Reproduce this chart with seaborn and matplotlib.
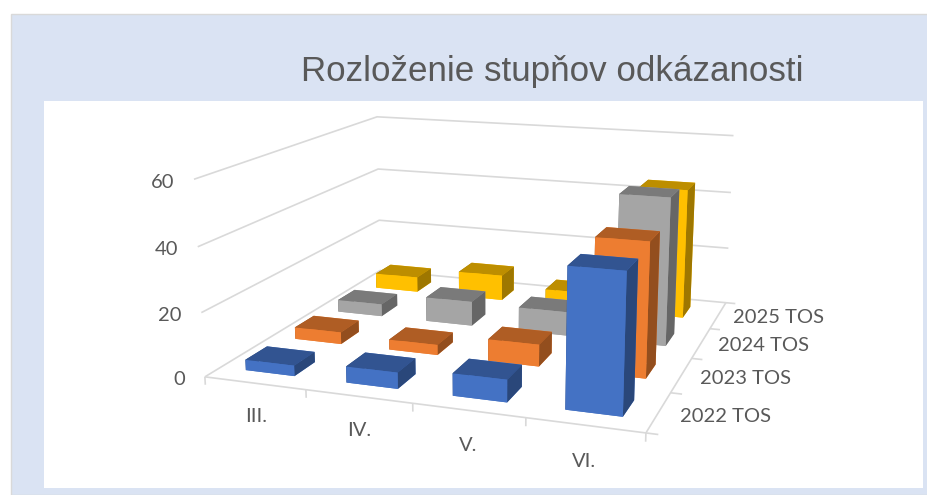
import numpy as np, matplotlib
matplotlib.use("Agg")
import matplotlib.pyplot as plt
from matplotlib.patches import Rectangle
import seaborn as sns

sns.set_theme(style="white")
W, H = 927, 495

title = "Rozloženie stupňov odkázanosti"
categories = ["III.", "IV.", "V.", "VI."]
series = ["2022 TOS", "2023 TOS", "2024 TOS", "2025 TOS"]
v2022 = [3.3, 5, 6.8, 41.5]
v2023 = [3.9, 3.3, 7, 42]
v2024 = [4.2, 8.3, 8, 48.5]
v2025 = [5.4, 9, 5.5, 44.5]
values = [v2022, v2023, v2024, v2025]
z_ticks = [0, 20, 40, 60]
palette = sns.color_palette(["#4472C4", "#ED7D31", "#A5A5A5", "#FFC000"])
text_c = "#595959"
grid_c = "#D9D9D9"
bar_w, bar_d = 0.49, 0.42

fig = plt.figure(figsize=(W / 100, H / 100), dpi=100, facecolor="white")
fig.add_artist(Rectangle((11 / W, 0), 1, 1 - 14 / H, transform=fig.transFigure,
                         fc="#DAE3F3", ec=grid_c, lw=1, zorder=-3))
fig.add_artist(Rectangle((44 / W, 7 / H), (923 - 44) / W, (488 - 101) / H,
                         transform=fig.transFigure, fc="white", ec="none", zorder=-2))

ax = fig.add_subplot(projection="3d", computed_zorder=False)
ax.set_facecolor("none")
ax.view_init(elev=14.0647, azim=-70.7689)
ax.set_proj_type("persp", focal_length=0.4132)
ax.set_box_aspect((1.9694, 1.9018, 0.8821))
ax.set_position([184.90 / W, -55.87 / H, 590.68 / W, 590.68 / H])

nx, ny = len(categories), len(series)
line = dict(color=grid_c, lw=1.2, zorder=1, solid_capstyle="butt")
for z in z_ticks:
    ax.plot([0, 0, nx], [0, ny, ny], [z, z, z], **line)
for i in range(nx + 1):
    ax.plot([i, i], [0, 0], [0, -2.5], **line)
for j in range(ny + 1):
    ax.plot([nx, nx + 0.1], [j, j], [0, 0], **line)
ax.plot([0, nx, nx], [0, 0, ny], [0, 0, 0], **line)

order = 10
for j in range(ny - 1, -1, -1):
    base = np.array(palette[j])
    faces = [base, base * 0.74, base, base, base * 0.62, base * 0.62]  # -Z,+Z,-Y,+Y,-X,+X
    for i in range(nx):
        ax.bar3d(i * (1 - 0.008 * j) + (1 - bar_w) / 2, j + (1 - bar_d) / 2, 0,
                 bar_w, bar_d, values[j][i],
                 color=faces, shade=False, linewidth=0, zorder=order)
        order += 1

ax.set_xlim(0, nx)
ax.set_ylim(0, ny)
ax.set_zlim(0, 60)
ax.set_axis_off()
for a in (ax.xaxis, ax.yaxis, ax.zaxis):
    a.set_ticks([])
    a.set_visible(False)

lab = dict(family="Lato", fontsize=14.5, color=text_c, zorder=100)
for i, c in enumerate(categories):
    ax.text(i + 0.5, 0, -10.5, c, ha="center", va="center", **lab)
for j, s in enumerate(series):
    ax.text(4.55 + 0.02 * j, j + 0.5, 1.2, s, ha="center", va="center", **lab)
for z in z_ticks:
    ax.text(-0.2, 0, z - 1.5, str(z), ha="right", va="center", **lab)

fig.text(552 / W, 1 - 71 / H, title, family="Liberation Sans", fontsize=25.2,
         color=text_c, ha="center", va="center")
fig.savefig("out.png", dpi=100)
